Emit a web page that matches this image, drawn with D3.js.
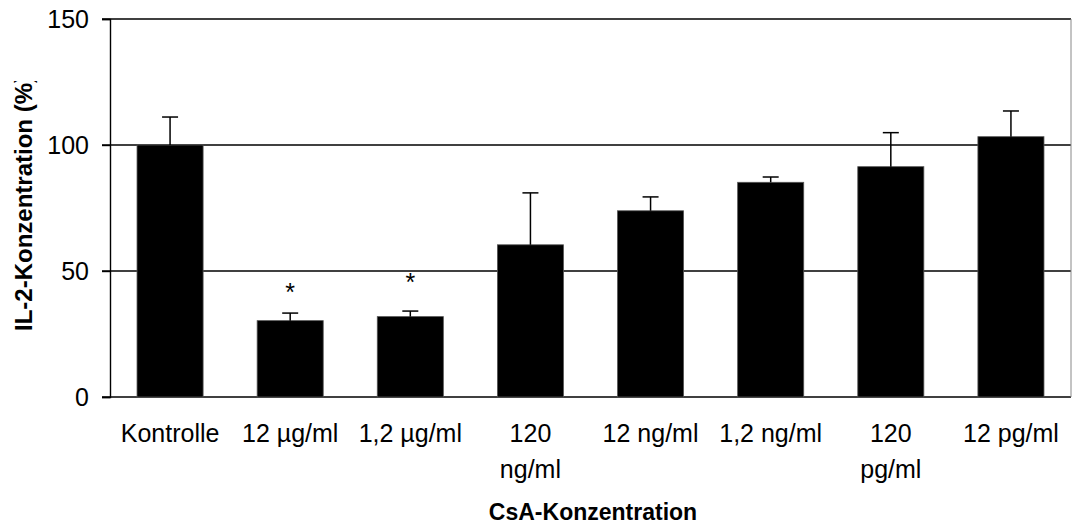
<!DOCTYPE html>
<html>
<head>
<meta charset="utf-8">
<script src="https://cdn.jsdelivr.net/npm/d3@7"></script>
<style>
	body { margin: 0; background: #fff; }
	text { font-family: "Liberation Sans", Arial, sans-serif; fill: #000; }
</style>
</head>
<body>
<script>
// categories (label lines) and values
var categories = ["Kontrolle", "12 µg/ml", "1,2 µg/ml", "120 ng/ml", "12 ng/ml", "1,2 ng/ml", "120 pg/ml", "12 pg/ml"];
var labelLines = [["Kontrolle"], ["12 µg/ml"], ["1,2 µg/ml"], ["120", "ng/ml"], ["12 ng/ml"], ["1,2 ng/ml"], ["120", "pg/ml"], ["12 pg/ml"]];
var means = [100, 30.3, 31.9, 60.4, 73.9, 85.2, 91.4, 103.3];
var errTops = [111.1, 33.3, 34.1, 81.0, 79.4, 87.3, 104.9, 113.5];
// significance stars: null = none, otherwise the value where the star sits
var stars = [null, 43.3, 47.2, null, null, null, null, null];
var yTicks = [0, 50, 100, 150];

var width = 1072, height = 527;
var margin = { top: 19, right: 1, bottom: 130, left: 110 };
var plotW = width - margin.left - margin.right,
	plotH = height - margin.top - margin.bottom;

var svg = d3.select("body").append("svg")
	.attr("width", width)
	.attr("height", height);

var g = svg.append("g")
	.attr("transform", "translate(" + margin.left + "," + margin.top + ")");

var xScale = d3.scaleBand()
	.domain(categories)
	.range([0, plotW])
	.paddingInner(0.45)
	.paddingOuter(0.225);

var yScale = d3.scaleLinear()
	.domain([0, 150])
	.range([plotH, 0]);

// gridlines (incl. the one at 150 = top border) with the tick stub on the left
g.selectAll(".grid")
	.data(yTicks)
	.enter()
	.append("line")
	.attr("class", "grid")
	.attr("x1", -8)
	.attr("x2", plotW)
	.attr("y1", function (d) { return yScale(d); })
	.attr("y2", function (d) { return yScale(d); })
	.attr("stroke", "#000")
	.attr("stroke-width", 1.4);

// right edge of the plot area
g.append("line")
	.attr("x1", plotW).attr("x2", plotW)
	.attr("y1", 0).attr("y2", plotH)
	.attr("stroke", "#888")
	.attr("stroke-width", 1);

// y axis labels
var yAxis = g.append("g")
	.call(d3.axisLeft(yScale).tickValues(yTicks).tickSize(8).tickPadding(13));
yAxis.select(".domain").attr("stroke", "#000").attr("stroke-width", 1.4);
yAxis.selectAll(".tick line").attr("stroke", "#000").attr("stroke-width", 1.4);
yAxis.selectAll(".tick text")
	.style("font-family", "'Liberation Sans', Arial, sans-serif")
	.style("font-size", "25px")
	.attr("fill", "#000");

// bars
g.selectAll(".bar")
	.data(means)
	.enter()
	.append("rect")
	.attr("class", "bar")
	.attr("x", function (d, i) { return xScale(categories[i]); })
	.attr("y", function (d) { return yScale(d); })
	.attr("width", xScale.bandwidth())
	.attr("height", function (d) { return plotH - yScale(d); })
	.attr("fill", "#000")
	.attr("stroke", "#555")
	.attr("stroke-width", 0.8);

// error bars (upwards only)
var capW = 16;
g.selectAll(".err")
	.data(errTops)
	.enter()
	.append("line")
	.attr("class", "err")
	.attr("x1", function (d, i) { return xScale(categories[i]) + xScale.bandwidth() / 2; })
	.attr("x2", function (d, i) { return xScale(categories[i]) + xScale.bandwidth() / 2; })
	.attr("y1", function (d, i) { return yScale(means[i]); })
	.attr("y2", function (d) { return yScale(d); })
	.attr("stroke", "#000")
	.attr("stroke-width", 1.5);
g.selectAll(".cap")
	.data(errTops)
	.enter()
	.append("line")
	.attr("class", "cap")
	.attr("x1", function (d, i) { return xScale(categories[i]) + xScale.bandwidth() / 2 - capW / 2; })
	.attr("x2", function (d, i) { return xScale(categories[i]) + xScale.bandwidth() / 2 + capW / 2; })
	.attr("y1", function (d) { return yScale(d); })
	.attr("y2", function (d) { return yScale(d); })
	.attr("stroke", "#000")
	.attr("stroke-width", 1.5);

// stars
g.selectAll(".star")
	.data(stars.map(function (s, i) { return { v: s, c: categories[i] }; }).filter(function (d) { return d.v !== null; }))
	.enter()
	.append("text")
	.attr("class", "star")
	.attr("x", function (d) { return xScale(d.c) + xScale.bandwidth() / 2; })
	.attr("y", function (d) { return yScale(d.v) + 13; })
	.attr("text-anchor", "middle")
	.style("font-size", "25px")
	.text("*");

// x category labels
var xl = g.selectAll(".xlab")
	.data(labelLines)
	.enter()
	.append("text")
	.attr("class", "xlab")
	.attr("text-anchor", "middle")
	.attr("x", function (d, i) { return xScale(categories[i]) + xScale.bandwidth() / 2; })
	.attr("y", plotH + 45)
	.style("font-size", "25px");
xl.selectAll("tspan")
	.data(function (d) { return d; })
	.enter()
	.append("tspan")
	.attr("x", function () { return d3.select(this.parentNode).attr("x"); })
	.attr("dy", function (d, i) { return i === 0 ? 0 : 36; })
	.text(function (d) { return d; });

// x axis title
svg.append("text")
	.attr("x", 593)
	.attr("y", 520)
	.attr("text-anchor", "middle")
	.style("font-size", "23px")
	.style("font-weight", "bold")
	.text("CsA-Konzentration");

// y axis title (clipped at the top like in the original)
svg.append("clipPath")
	.attr("id", "yclip")
	.append("rect")
	.attr("x", 0).attr("y", 81)
	.attr("width", 100).attr("height", 300);
svg.append("g")
	.attr("clip-path", "url(#yclip)")
	.append("text")
	.attr("transform", "translate(32,331) rotate(-90)")
	.attr("text-anchor", "start")
	.style("font-size", "24px")
	.style("font-weight", "bold")
	.text("IL-2-Konzentration (%)");
</script>
</body>
</html>
